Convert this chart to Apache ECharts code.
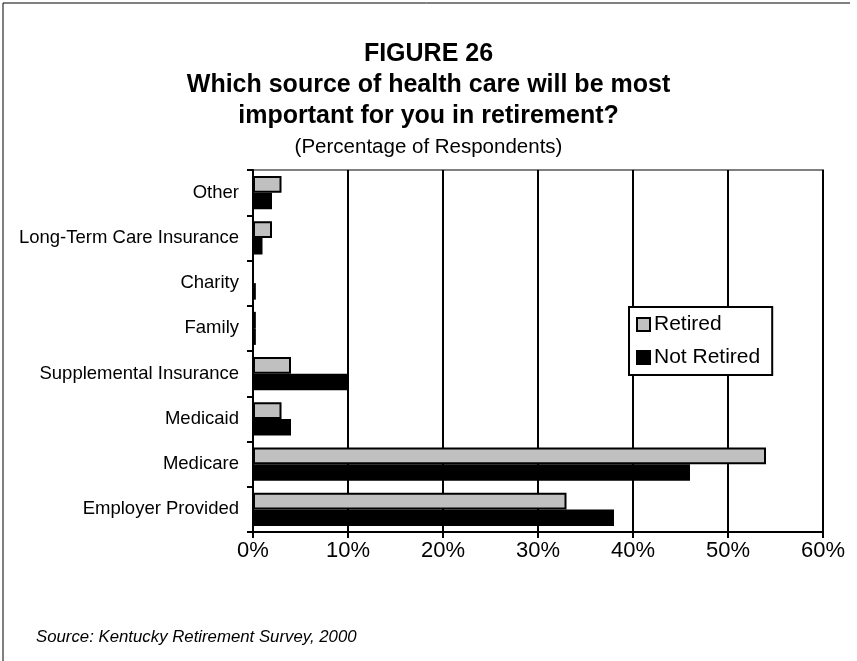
<!DOCTYPE html>
<html>
<head>
<meta charset="utf-8">
<script src="https://cdn.jsdelivr.net/npm/echarts@6/dist/echarts.min.js"></script>
<style>
  html, body { margin: 0; padding: 0; background: #fff; }
  #chart { width: 857px; height: 661px; }
</style>
</head>
<body>
<div id="chart"></div>
<script>
// Health care sources, listed top to bottom
const categories = [
  'Other',
  'Long-Term Care Insurance',
  'Charity',
  'Family',
  'Supplemental Insurance',
  'Medicaid',
  'Medicare',
  'Employer Provided'
];
// Percent of respondents
const retired    = [3, 2, 0,   0.3, 4,  3, 54, 33];
const notRetired = [2, 1, 0.3, 0.3, 10, 4, 46, 38];
const seriesNames = ['Retired', 'Not Retired'];
const xTicks = { min: 0, max: 60, step: 10 };

const titleLines = [
  'FIGURE 26',
  'Which source of health care will be most',
  'important for you in retirement?'
];
const subtitle = '(Percentage of Respondents)';
const sourceNote = 'Source: Kentucky Retirement Survey, 2000';

const FONT = '"Liberation Sans", Arial, sans-serif';

const chart = echarts.init(document.getElementById('chart'), null, { renderer: 'canvas' });

const titleBlocks = titleLines.map((line, i) => ({
  text: line,
  left: 'center',
  top: 39 + i * 31,
  padding: 0,
  textStyle: { fontFamily: FONT, fontSize: 25, fontWeight: 'bold', color: '#000', lineHeight: 31 }
}));

chart.setOption({
  backgroundColor: '#ffffff',
  animation: false,
  textStyle: { fontFamily: FONT, color: '#000' },
  title: titleBlocks.concat([
    {
      text: subtitle,
      left: 'center',
      top: 135,
      padding: 0,
      textStyle: { fontFamily: FONT, fontSize: 20.5, fontWeight: 'normal', color: '#000', lineHeight: 24 }
    },
    {
      text: sourceNote,
      left: 36,
      top: 627,
      padding: 0,
      textStyle: { fontFamily: FONT, fontSize: 16.8, fontStyle: 'italic', fontWeight: 'normal', color: '#000', lineHeight: 20 }
    }
  ]),
  graphic: [
    { type: 'line', shape: { x1: 3, y1: 3, x2: 850, y2: 3 }, style: { stroke: '#000', lineWidth: 1 } },
    { type: 'line', shape: { x1: 3, y1: 3, x2: 3, y2: 661 }, style: { stroke: '#000', lineWidth: 1 } }
  ],
  legend: {
    orient: 'vertical',
    left: 629,
    top: 307,
    padding: [7, 12, 7, 7],
    itemGap: 12,
    itemWidth: 13,
    itemHeight: 13,
    backgroundColor: '#fff',
    borderColor: '#000',
    borderWidth: 2,
    borderRadius: 0,
    icon: 'rect',
    textStyle: { fontFamily: FONT, fontSize: 21, color: '#000', padding: [0, 0, 0, -1] },
    data: [
      { name: seriesNames[0], itemStyle: { color: '#c0c0c0', borderColor: '#000', borderWidth: 2 } },
      { name: seriesNames[1], itemStyle: { color: '#000', borderColor: '#000', borderWidth: 2 } }
    ]
  },
  grid: {
    left: 253,
    right: 34,
    top: 170,
    bottom: 129,
    show: true,
    borderColor: '#808080',
    borderWidth: 2,
    backgroundColor: 'transparent'
  },
  xAxis: {
    type: 'value',
    min: xTicks.min,
    max: xTicks.max,
    interval: xTicks.step,
    axisLine: { show: true, lineStyle: { color: '#000', width: 2 } },
    axisTick: { show: true, length: 6, lineStyle: { color: '#000', width: 2 } },
    axisLabel: { formatter: '{value}%', fontFamily: FONT, fontSize: 22, color: '#000', margin: 8 },
    splitLine: { show: true, lineStyle: { color: '#000', width: 2 } }
  },
  yAxis: {
    type: 'category',
    inverse: true,
    data: categories,
    axisLine: { show: true, lineStyle: { color: '#000', width: 2 } },
    axisTick: { show: true, length: 6, lineStyle: { color: '#000', width: 2 } },
    axisLabel: { fontFamily: FONT, fontSize: 18.5, color: '#000', margin: 14 },
    splitLine: { show: false }
  },
  series: [
    {
      name: seriesNames[0],
      type: 'bar',
      data: retired,
      barGap: '0%',
      barCategoryGap: '27%',
      itemStyle: { color: '#c0c0c0', borderColor: '#000', borderWidth: 2 },
      z: 3
    },
    {
      name: seriesNames[1],
      type: 'bar',
      data: notRetired,
      barGap: '0%',
      barCategoryGap: '27%',
      itemStyle: { color: '#000', borderColor: '#000', borderWidth: 2 },
      z: 3
    }
  ]
});
</script>
</body>
</html>
